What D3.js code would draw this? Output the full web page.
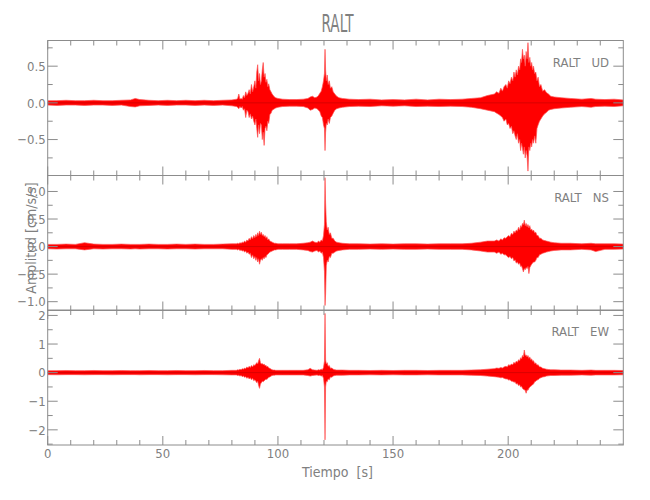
<!DOCTYPE html>
<html>
<head>
<meta charset="utf-8">
<script src="https://cdn.jsdelivr.net/npm/d3@7"></script>
<style>
  html, body { margin: 0; padding: 0; background: #ffffff; }
  svg text { font-family: "Liberation Sans Narrow", "DejaVu Sans Condensed", "DejaVu Sans", sans-serif; fill: #808080; }
</style>
</head>
<body>
<svg id="chart" width="650" height="500"></svg>
<script>
// ---- data ----
const title = "RALT";
const xLabel = "Tiempo  [s]";
const yLabel = "Amplitud [cm/s/s]";
const station = "RALT";
const components = ["UD", "NS", "EW"];
const xTickValues = [0, 50, 100, 150, 200];

// shared time grid (s) of the envelope samples
const times = [
  0,4,8,12,16,20,24,28,32,36,38,40,44,48,52,56,60,64,68,72,76,80,
  82,82.5,83,83.5,84,84.5,85,85.5,86,86.5,87,87.5,88,88.5,89,89.5,90,90.4,90.8,91.2,91.6,92,92.4,92.8,93.2,93.6,94,94.4,94.8,95.2,95.6,96,96.5,97,97.5,98,98.5,99,100,
  102,105,108,111,113,114,115,116,
  117,117.6,118.2,118.8,119.3,119.8,120.2,120.45,120.7,121,121.4,121.8,122.3,122.8,123.4,124,124.7,125.5,126.5,
  128,131,135,140,145,150,155,160,165,170,175,180,184,188,191,
  194,195,196,196.8,197.5,198.2,199,199.6,200.2,200.8,201.4,202,202.5,203,203.5,204,204.5,205,205.4,205.8,206.2,206.6,207,207.4,207.8,208.2,208.6,209,209.4,209.8,210.2,210.6,211,211.5,212,212.5,213,213.6,214.2,215,215.8,216.6,217.5,218.5,220,
  223,227,232,236,238,242,246,250];

// UD envelope (upper / lower)
const udUpper = [
  .03,.03,.035,.03,.03,.035,.03,.03,.035,.04,.06,.045,.035,.03,.035,.03,.035,.03,.035,.03,.035,.04,
  .05,.06,.12,.05,.06,.05,.1,.07,.15,.1,.13,.18,.12,.25,.15,.22,.3,.2,.42,.52,.3,.4,.25,.3,.45,.55,.35,.4,.28,.32,.22,.26,.18,.15,.12,.1,.08,.07,.06,
  .05,.045,.045,.05,.06,.08,.09,.07,
  .08,.1,.13,.16,.22,.3,.4,.73,.45,.3,.38,.25,.3,.2,.22,.15,.12,.09,.07,
  .06,.05,.045,.05,.04,.045,.04,.05,.04,.05,.045,.05,.06,.07,.1,
  .12,.15,.13,.2,.16,.22,.25,.2,.3,.26,.35,.3,.42,.35,.45,.38,.5,.45,.6,.55,.73,.6,.65,.5,.7,.6,.82,.55,.62,.5,.55,.45,.5,.4,.42,.3,.35,.22,.25,.16,.18,.14,.12,.09,.08,
  .07,.06,.05,.06,.05,.045,.05,.04];
const udLower = [
  -.03,-.035,-.03,-.03,-.035,-.03,-.03,-.035,-.03,-.05,-.055,-.04,-.035,-.03,-.035,-.03,-.03,-.035,-.03,-.035,-.03,-.04,
  -.05,-.06,-.08,-.05,-.07,-.05,-.1,-.08,-.2,-.1,-.12,-.2,-.15,-.22,-.18,-.25,-.3,-.22,-.35,-.47,-.3,-.42,-.28,-.3,-.5,-.4,-.58,-.35,-.32,-.38,-.25,-.28,-.16,-.14,-.1,-.09,-.08,-.07,-.06,
  -.05,-.045,-.045,-.05,-.07,-.1,-.09,-.07,
  -.08,-.1,-.12,-.18,-.2,-.3,-.35,-.65,-.4,-.28,-.3,-.22,-.28,-.2,-.18,-.14,-.1,-.08,-.07,
  -.06,-.05,-.045,-.05,-.04,-.045,-.04,-.05,-.045,-.05,-.045,-.05,-.06,-.08,-.1,
  -.12,-.14,-.16,-.18,-.2,-.25,-.22,-.3,-.28,-.35,-.32,-.42,-.38,-.45,-.5,-.42,-.55,-.5,-.65,-.55,-.62,-.7,-.6,-.75,-.65,-.72,-.93,-.6,-.65,-.55,-.6,-.5,-.55,-.45,-.55,-.35,-.3,-.25,-.22,-.18,-.15,-.13,-.1,-.09,-.08,
  -.07,-.06,-.05,-.06,-.05,-.045,-.05,-.04];

// NS envelope (upper / lower)
const nsUpper = [
  .04,.04,.045,.04,.07,.045,.04,.04,.045,.04,.04,.04,.045,.04,.04,.045,.04,.045,.04,.04,.045,.05,
  .05,.06,.05,.07,.06,.08,.07,.1,.08,.12,.1,.15,.12,.18,.14,.2,.16,.22,.18,.25,.2,.28,.22,.26,.2,.22,.18,.2,.15,.18,.12,.14,.1,.09,.08,.07,.06,.06,.05,
  .05,.05,.05,.06,.07,.08,.1,.08,
  .07,.1,.08,.12,.1,.2,.4,1.25,.79,.45,.3,.35,.22,.25,.15,.15,.1,.08,.07,
  .06,.05,.05,.045,.05,.045,.05,.05,.045,.05,.05,.05,.06,.08,.1,
  .1,.12,.1,.14,.12,.16,.15,.18,.2,.18,.24,.22,.28,.25,.3,.28,.35,.3,.38,.35,.42,.4,.48,.38,.42,.36,.4,.34,.38,.3,.32,.28,.3,.25,.26,.2,.2,.15,.15,.12,.11,.1,.09,.08,.07,
  .06,.06,.05,.06,.05,.05,.05,.045];
const nsLower = [
  -.04,-.045,-.04,-.04,-.06,-.04,-.045,-.04,-.04,-.045,-.04,-.045,-.04,-.04,-.045,-.04,-.04,-.045,-.04,-.04,-.04,-.05,
  -.05,-.06,-.05,-.07,-.06,-.08,-.07,-.1,-.08,-.12,-.1,-.14,-.12,-.2,-.15,-.22,-.18,-.25,-.2,-.28,-.22,-.32,-.25,-.22,-.25,-.2,-.22,-.18,-.2,-.15,-.14,-.12,-.1,-.09,-.08,-.07,-.06,-.06,-.05,
  -.05,-.05,-.05,-.06,-.07,-.09,-.1,-.08,
  -.07,-.1,-.08,-.12,-.1,-.2,-.45,-1.07,-.86,-.35,-.25,-.28,-.18,-.2,-.12,-.12,-.1,-.08,-.07,
  -.06,-.05,-.05,-.045,-.05,-.045,-.05,-.05,-.045,-.05,-.05,-.05,-.06,-.08,-.1,
  -.1,-.12,-.1,-.14,-.12,-.15,-.15,-.18,-.2,-.18,-.22,-.2,-.26,-.24,-.3,-.28,-.32,-.3,-.36,-.35,-.4,-.46,-.4,-.42,-.38,-.4,-.36,-.49,-.38,-.35,-.32,-.3,-.28,-.28,-.25,-.2,-.2,-.15,-.14,-.12,-.11,-.1,-.09,-.08,-.07,
  -.06,-.06,-.05,-.06,-.09,-.05,-.05,-.045];

// EW envelope (upper / lower)
const ewUpper = [
  .07,.07,.075,.07,.07,.075,.07,.07,.075,.07,.07,.07,.075,.07,.07,.075,.07,.07,.075,.07,.07,.08,
  .08,.1,.09,.12,.1,.14,.12,.16,.14,.2,.16,.22,.18,.25,.2,.28,.25,.3,.35,.3,.42,.5,.35,.3,.32,.28,.3,.24,.26,.2,.22,.16,.15,.12,.1,.09,.09,.08,.08,
  .08,.08,.08,.08,.1,.15,.1,.09,
  .08,.1,.09,.12,.1,.18,.4,2.07,.45,.3,.35,.22,.25,.15,.16,.12,.1,.09,.09,
  .09,.08,.08,.075,.08,.075,.08,.08,.075,.08,.08,.08,.09,.1,.12,
  .14,.16,.15,.18,.16,.2,.22,.2,.28,.25,.3,.28,.36,.32,.4,.36,.45,.42,.52,.48,.6,.55,.79,.6,.62,.55,.6,.5,.55,.45,.48,.4,.42,.32,.34,.26,.28,.2,.2,.15,.14,.12,.11,.1,.1,
  .09,.09,.08,.09,.08,.08,.08,.075];
const ewLower = [
  -.07,-.075,-.07,-.07,-.075,-.07,-.07,-.075,-.07,-.07,-.07,-.075,-.07,-.07,-.075,-.07,-.07,-.075,-.07,-.07,-.075,-.08,
  -.08,-.1,-.09,-.12,-.1,-.14,-.12,-.16,-.14,-.2,-.16,-.22,-.18,-.25,-.2,-.28,-.25,-.3,-.35,-.3,-.45,-.55,-.4,-.35,-.3,-.32,-.28,-.26,-.22,-.24,-.2,-.16,-.15,-.12,-.1,-.09,-.09,-.08,-.08,
  -.08,-.08,-.08,-.08,-.1,-.12,-.1,-.09,
  -.08,-.1,-.09,-.12,-.1,-.2,-.5,-2.35,-.5,-.3,-.32,-.22,-.25,-.15,-.16,-.12,-.1,-.09,-.09,
  -.09,-.08,-.08,-.075,-.08,-.075,-.08,-.08,-.075,-.08,-.08,-.08,-.09,-.1,-.12,
  -.14,-.15,-.16,-.18,-.17,-.2,-.22,-.22,-.26,-.25,-.3,-.3,-.34,-.32,-.4,-.38,-.45,-.42,-.5,-.48,-.55,-.58,-.6,-.62,-.72,-.6,-.62,-.55,-.5,-.48,-.45,-.42,-.4,-.32,-.3,-.26,-.25,-.2,-.18,-.15,-.14,-.12,-.11,-.1,-.1,
  -.09,-.09,-.08,-.09,-.08,-.08,-.08,-.075];

// y axis domains and ticks per panel
const yDomains = [[-0.99, 0.85], [-1.16, 1.29], [-2.53, 2.19]];
const yMajorTicks = [[-0.5, 0, 0.5], [-1, -0.5, 0, 0.5, 1], [-2, -1, 0, 1, 2]];
const yMinorTicks = [[-0.75, -0.25, 0.25, 0.75], [-0.75, -0.25, 0.25, 0.75], [-2.5, -1.5, -0.5, 0.5, 1.5]];
const yTickLabels = [["\u22120.5", "0.0", "0.5"], ["\u22121.0", "\u22120.5", "0.0", "0.5", "1.0"], ["\u22122", "\u22121", "0", "1", "2"]];

// ---- drawing ----
const svg = d3.select("#chart");
const left = 47.7, right = 623.3;
const panelTops = [40.5, 175.5, 310];
const panelH = 135;
const axisColor = "#8c8c8c";

const x = d3.scaleLinear().domain([0, 250]).range([left, right]);
const xMinor = d3.range(10, 250, 10).filter(v => v % 50 !== 0);
const envelopes = [[udUpper, udLower], [nsUpper, nsLower], [ewUpper, ewLower]];

svg.append("text").attr("x", (left + right) / 2 + 2).attr("y", 32)
  .attr("text-anchor", "middle").style("font-size", "25px")
  .attr("textLength", 32).attr("lengthAdjust", "spacingAndGlyphs").text(title);

components.forEach((comp, i) => {
  const top = panelTops[i], bottom = top + panelH;
  const y = d3.scaleLinear().domain(yDomains[i]).range([bottom, top]);
  const g = svg.append("g");
  const [up, lo] = envelopes[i];
  const pts = times.map((t, k) => ({ t, u: up[k], l: lo[k] }));

  const clipId = "clip" + i;
  g.append("clipPath").attr("id", clipId).append("rect")
    .attr("x", left).attr("y", top - 1).attr("width", right - left).attr("height", panelH + 2);

  const area = d3.area().x(d => x(d.t)).y0(d => y(d.l)).y1(d => y(d.u));
  g.append("path").datum(pts).attr("d", area)
    .attr("fill", "#ff0000").attr("stroke", "#ff5050").attr("stroke-width", 0.7)
    .attr("stroke-linejoin", "round")
    .attr("clip-path", `url(#${clipId})`);
  // dense trace core along the zero line
  g.append("line").attr("x1", x(0)).attr("x2", x(250)).attr("y1", y(0)).attr("y2", y(0))
    .attr("stroke", "#c00000").attr("stroke-width", 1).attr("stroke-opacity", 0.6);

  g.append("rect").attr("x", left).attr("y", top).attr("width", right - left).attr("height", panelH)
    .attr("fill", "none").attr("stroke", axisColor).attr("stroke-width", 1);

  const tk = g.append("g").attr("stroke", axisColor).attr("stroke-width", 1);
  xTickValues.forEach(v => {
    tk.append("line").attr("x1", x(v)).attr("x2", x(v)).attr("y1", bottom).attr("y2", bottom - 9);
    tk.append("line").attr("x1", x(v)).attr("x2", x(v)).attr("y1", top).attr("y2", top + 9);
  });
  xMinor.forEach(v => {
    tk.append("line").attr("x1", x(v)).attr("x2", x(v)).attr("y1", bottom).attr("y2", bottom - 5);
    tk.append("line").attr("x1", x(v)).attr("x2", x(v)).attr("y1", top).attr("y2", top + 5);
  });
  yMajorTicks[i].forEach(v => {
    tk.append("line").attr("x1", left).attr("x2", left + 10).attr("y1", y(v)).attr("y2", y(v));
    tk.append("line").attr("x1", right).attr("x2", right - 10).attr("y1", y(v)).attr("y2", y(v));
  });
  yMinorTicks[i].forEach(v => {
    tk.append("line").attr("x1", left).attr("x2", left + 5).attr("y1", y(v)).attr("y2", y(v));
    tk.append("line").attr("x1", right).attr("x2", right - 5).attr("y1", y(v)).attr("y2", y(v));
  });
  yMajorTicks[i].forEach((v, k) => {
    g.append("text").attr("x", left - 2).attr("y", y(v)).attr("dy", "0.36em")
      .attr("text-anchor", "end").style("font-size", "13px").text(yTickLabels[i][k]);
  });
  g.append("text").attr("x", 609).attr("y", top + 26).attr("text-anchor", "end")
    .style("font-size", "13px").style("white-space", "pre")
    .text(station + "   " + comp);
});

xTickValues.forEach(v => {
  svg.append("text").attr("x", x(v)).attr("y", 458).attr("text-anchor", "middle")
    .style("font-size", "13px").text(String(v));
});
svg.append("text").attr("x", (left + right) / 2 + 2).attr("y", 477).attr("text-anchor", "middle")
  .style("font-size", "14px").style("white-space", "pre").text(xLabel);
svg.append("text").attr("transform", "translate(36,238) rotate(-90)").attr("text-anchor", "middle")
  .style("font-size", "14px").text(yLabel);
</script>
</body>
</html>
